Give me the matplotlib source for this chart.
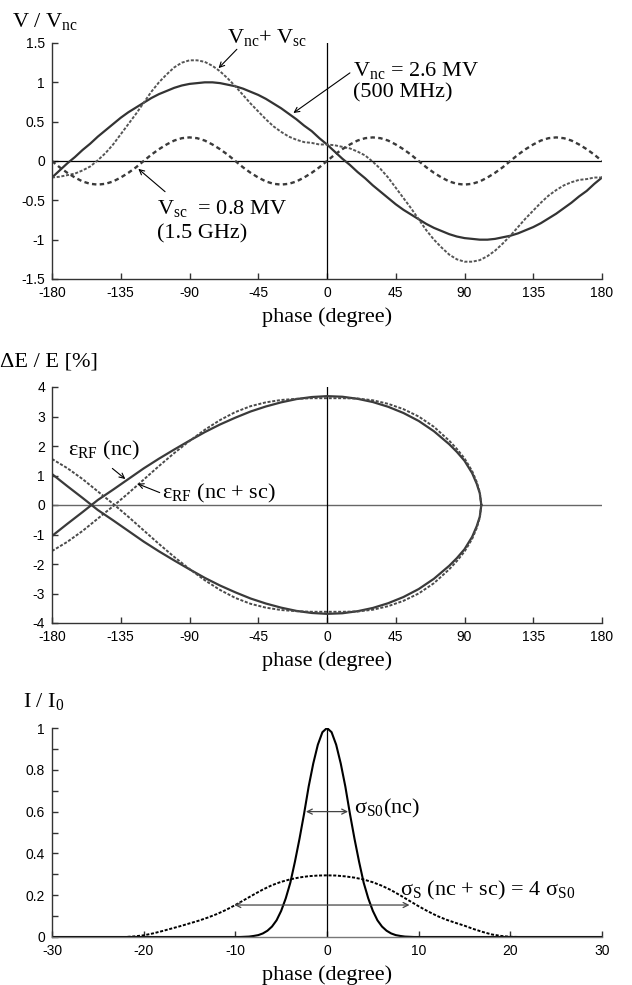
import numpy as np
import matplotlib
matplotlib.use('Agg')
import matplotlib.pyplot as plt
from matplotlib.ticker import MultipleLocator, FuncFormatter

plt.rcParams['font.family'] = ['Liberation Sans', 'DejaVu Sans']
plt.rcParams['mathtext.fontset'] = 'custom'
plt.rcParams['mathtext.rm'] = 'Liberation Serif'
plt.rcParams['mathtext.it'] = 'Liberation Serif:italic'
plt.rcParams['axes.unicode_minus'] = False
plt.rcParams['lines.scale_dashes'] = False

# ---- panel 1 : voltages, every 5 degree from -180 to 180
phase_v = np.arange(-180, 181, 5)
v_nc = [-0.21, -0.12, -0.03, 0.05, 0.14, 0.22, 0.31, 0.39, 0.47, 0.55,
        0.62, 0.68, 0.74, 0.80, 0.85, 0.89, 0.93, 0.96, 0.98, 0.99,
        1.00, 1.00, 0.99, 0.97, 0.95, 0.92, 0.88, 0.84, 0.79, 0.73,
        0.67, 0.60, 0.53, 0.45, 0.38, 0.29, 0.21, 0.12, 0.03, -0.05,
        -0.14, -0.22, -0.31, -0.39, -0.47, -0.55, -0.62, -0.68, -0.74, -0.80,
        -0.85, -0.89, -0.93, -0.96, -0.98, -0.99, -1.00, -1.00, -0.99, -0.97,
        -0.95, -0.92, -0.88, -0.84, -0.79, -0.73, -0.67, -0.60, -0.53, -0.45,
        -0.38, -0.29, -0.21]
v_sc = [0, -0.08, -0.15, -0.21, -0.26, -0.29, -0.30, -0.29, -0.26, -0.21, -0.15, -0.08,
        0, 0.08, 0.15, 0.21, 0.26, 0.29, 0.30, 0.29, 0.26, 0.21, 0.15, 0.08,
        0, -0.08, -0.15, -0.21, -0.26, -0.29, -0.30, -0.29, -0.26, -0.21, -0.15, -0.08,
        0, 0.08, 0.15, 0.21, 0.26, 0.29, 0.30, 0.29, 0.26, 0.21, 0.15, 0.08,
        0, -0.08, -0.15, -0.21, -0.26, -0.29, -0.30, -0.29, -0.26, -0.21, -0.15, -0.08,
        0, 0.08, 0.15, 0.21, 0.26, 0.29, 0.30, 0.29, 0.26, 0.21, 0.15, 0.08,
        0]
v_sum = [-0.21, -0.20, -0.18, -0.16, -0.12, -0.07, 0.01, 0.10, 0.21, 0.34,
         0.47, 0.60, 0.74, 0.88, 1.00, 1.10, 1.19, 1.25, 1.28, 1.28,
         1.26, 1.21, 1.14, 1.05, 0.95, 0.84, 0.73, 0.63, 0.53, 0.44,
         0.37, 0.31, 0.27, 0.24, 0.23, 0.21, 0.21, 0.20, 0.18, 0.16,
         0.12, 0.07, -0.01, -0.10, -0.21, -0.34, -0.47, -0.60, -0.74, -0.88,
         -1.00, -1.10, -1.19, -1.25, -1.28, -1.28, -1.26, -1.21, -1.14, -1.05,
         -0.95, -0.84, -0.73, -0.63, -0.53, -0.44, -0.37, -0.31, -0.27, -0.24,
         -0.23, -0.21, -0.21]

# ---- panel 2 : separatrix (upper branch, signed), mirrored for the lower one
phase_sep = [-180, -170, -160, -150, -140, -130, -120, -110, -100, -90,
             -80, -70, -60, -50, -40, -30, -20, -10, 0, 10,
             20, 30, 40, 50, 60, 70, 80, 85, 90, 95, 98, 100, 101]
de_nc = [-1.05, -0.64, -0.24, 0.17, 0.52, 0.88, 1.24, 1.57, 1.88, 2.18,
         2.47, 2.73, 2.96, 3.17, 3.34, 3.48, 3.59, 3.66, 3.69, 3.67,
         3.60, 3.49, 3.33, 3.12, 2.85, 2.50, 2.06, 1.80, 1.50, 1.08, 0.72, 0.40, 0.0]
de_ncsc = [-1.56, -1.25, -0.88, -0.46, -0.04, 0.40, 0.86, 1.32, 1.76, 2.17,
           2.55, 2.88, 3.15, 3.35, 3.48, 3.56, 3.60, 3.62, 3.62, 3.62,
           3.61, 3.55, 3.43, 3.25, 3.00, 2.65, 2.18, 1.90, 1.58, 1.15, 0.78, 0.43, 0.0]

# ---- panel 3 : bunch profiles
phase_i_nc = np.concatenate([[-30], np.arange(-10, 10.01, 0.5), [30]])
i_nc = [0,
        0, 0, 0.001, 0.002, 0.005, 0.009, 0.017, 0.03, 0.05, 0.08,
        0.125, 0.185, 0.26, 0.36, 0.47, 0.59, 0.72, 0.83, 0.92, 0.98,
        1.0,
        0.98, 0.92, 0.83, 0.72, 0.59, 0.47, 0.36, 0.26, 0.185, 0.125,
        0.08, 0.05, 0.03, 0.017, 0.009, 0.005, 0.002, 0.001, 0, 0,
        0]
phase_i_sc = np.concatenate([[-30], np.arange(-22, 23, 1), [30]])
i_ncsc = [0,
          0, 0.003, 0.008, 0.017, 0.028, 0.040, 0.052, 0.065, 0.078, 0.093,
          0.110, 0.130, 0.153, 0.178, 0.203, 0.227, 0.248, 0.264, 0.276, 0.285,
          0.291, 0.294, 0.295, 0.294, 0.290, 0.284, 0.275, 0.262, 0.245, 0.224,
          0.199, 0.173, 0.147, 0.123, 0.101, 0.083, 0.068, 0.054, 0.038, 0.024,
          0.012, 0.005, 0.001, 0, 0,
          0]

SERIF = 'Liberation Serif'
W, H = 632, 985
fig = plt.figure(figsize=(W / 100, H / 100), dpi=100)


def box(l, t, r, b):
    return [l / W, 1 - b / H, (r - l) / W, (b - t) / H]


def style(ax):
    for s in ['top', 'right']:
        ax.spines[s].set_visible(False)
    for s in ['left', 'bottom']:
        ax.spines[s].set_color('#333333')
        ax.spines[s].set_linewidth(1.0)
    ax.tick_params(direction='in', length=4, width=1, color='#333333',
                   labelsize=10, pad=5)
    ax.tick_params(which='minor', direction='in', length=4, width=1, color='#333333')
    ax.yaxis.set_major_formatter(FuncFormatter(lambda v, p: f'{v:g}'))
    ax.xaxis.set_major_formatter(FuncFormatter(lambda v, p: f'{v:g}'))
    ax.set_xlabel('phase (degree)', family=SERIF, fontsize=16, labelpad=5)


# ---------------- panel 1
ax1 = fig.add_axes(box(52, 43, 602, 279))
style(ax1)
ax1.axhline(0, color='k', lw=0.9)
ax1.axvline(0, color='k', lw=0.9)
ax1.plot(phase_v, v_nc, color='#333333', lw=1.6)
ax1.plot(phase_v, v_sum, color='#555555', lw=1.4, dashes=(2.2, 1.2))
ax1.plot(phase_v, v_sc, color='#3a3a3a', lw=1.7, dashes=(3.2, 2.4))
ax1.set_xlim(-180, 180)
ax1.set_ylim(-1.5, 1.5)
ax1.xaxis.set_major_locator(MultipleLocator(45))
ax1.yaxis.set_major_locator(MultipleLocator(0.5))

arrow = dict(arrowstyle='->', color='k', lw=0.8, shrinkA=0, shrinkB=0, mutation_scale=9)
ax1.text(-65.5, 1.50, r'V$_{\rm nc}$+ V$_{\rm sc}$', family=SERIF, fontsize=16, va='baseline')
ax1.annotate('', xy=(-71, 1.18), xytext=(-59, 1.42), arrowprops=arrow)
ax1.text(17, 1.08, r'V$_{\rm nc}$ = 2.6 MV', family=SERIF, fontsize=16, va='baseline')
ax1.text(17, 0.81, '(500 MHz)', family=SERIF, fontsize=16, va='baseline')
ax1.annotate('', xy=(-22, 0.61), xytext=(15, 1.12), arrowprops=arrow)
ax1.text(-111, -0.67, r'V$_{\rm sc}$  = 0.8 MV', family=SERIF, fontsize=16, va='baseline')
ax1.text(-111, -0.98, '(1.5 GHz)', family=SERIF, fontsize=16, va='baseline')
ax1.annotate('', xy=(-123.5, -0.10), xytext=(-106, -0.39), arrowprops=arrow)
fig.text(12 / W, 1 - 27 / H, r'V / V$_{\rm nc}$', family=SERIF, fontsize=16, va='baseline')

# ---------------- panel 2
ax2 = fig.add_axes(box(52, 387, 602, 623))
style(ax2)
ax2.axhline(0, color='#666666', lw=1.0)
ax2.axvline(0, color='k', lw=0.9)
de_nc = np.array(de_nc)
de_ncsc = np.array(de_ncsc)
for sgn in (1, -1):
    ax2.plot(phase_sep, sgn * de_nc, color='#3a3a3a', lw=1.6)
    ax2.plot(phase_sep, sgn * de_ncsc, color='#4a4a4a', lw=1.4, dashes=(2.2, 1.2))
ax2.set_xlim(-180, 180)
ax2.set_ylim(-4, 4)
ax2.xaxis.set_major_locator(MultipleLocator(45))
ax2.yaxis.set_major_locator(MultipleLocator(1))
ax2.text(-169.5, 1.68, r'ε$_{\rm RF}$ (nc)', family=SERIF, fontsize=16, va='baseline')
ax2.annotate('', xy=(-132, 0.88), xytext=(-140.5, 1.24), arrowprops=arrow)
ax2.text(-108, 0.21, r'ε$_{\rm RF}$ (nc + sc)', family=SERIF, fontsize=16, va='baseline')
ax2.annotate('', xy=(-124, 0.72), xytext=(-109.5, 0.42), arrowprops=arrow)
fig.text(0 / W, 1 - 366 / H, 'ΔE / E [%]', family=SERIF, fontsize=16, va='baseline')

# ---------------- panel 3
ax3 = fig.add_axes(box(52, 728, 602, 937))
style(ax3)
ax3.spines['bottom'].set_color('#777777')
ax3.plot([0, 0], [0, 1], color='k', lw=0.9)
ax3.plot(phase_i_nc, i_nc, color='k', lw=1.5)
ax3.plot(phase_i_sc, i_ncsc, color='k', lw=1.4, dashes=(2.2, 1.2))
ax3.set_xlim(-30, 30)
ax3.set_ylim(0, 1)
ax3.xaxis.set_major_locator(MultipleLocator(10))
ax3.yaxis.set_major_locator(MultipleLocator(0.2))
ax3.yaxis.set_minor_locator(MultipleLocator(0.1))
darrow = dict(arrowstyle='<->', color='#444444', lw=0.9, shrinkA=0, shrinkB=0, mutation_scale=9)
ax3.annotate('', xy=(2.3, 0.6), xytext=(-2.3, 0.6), arrowprops=darrow)
ax3.annotate('', xy=(9.0, 0.153), xytext=(-10.1, 0.153), arrowprops=darrow)
ax3.text(2.9, 0.59, r'σ$_{\rm S0}$(nc)', family=SERIF, fontsize=16, va='baseline')
ax3.text(8.0, 0.20, r'σ$_{\rm S}$ (nc + sc) = 4 σ$_{\rm S0}$', family=SERIF, fontsize=16, va='baseline')
fig.text(23 / W, 1 - 707 / H, r'I / I$_{\rm 0}$', family=SERIF, fontsize=16, va='baseline')

fig.savefig('out.png', dpi=100)
